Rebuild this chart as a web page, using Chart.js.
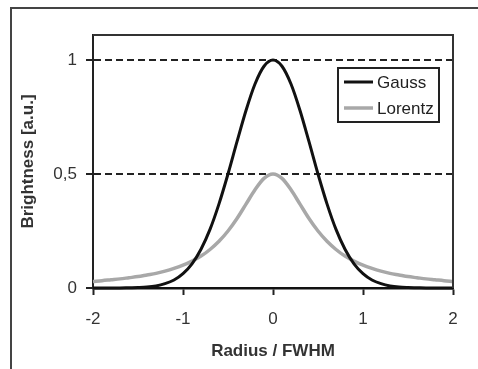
<!DOCTYPE html>
<html>
<head>
<meta charset="utf-8">
<script src="https://cdn.jsdelivr.net/npm/chart.js@4/dist/chart.umd.min.js"></script>
<style>
  html, body { margin: 0; padding: 0; background: #fff; }
  #c { display: block; }
</style>
</head>
<body>
<canvas id="c" width="478" height="369"></canvas>
<script>
// ---- data ----
const radius = [-2.0,-1.9,-1.8,-1.7,-1.6,-1.5,-1.4,-1.3,-1.2,-1.1,-1.0,-0.9,-0.8,-0.7,-0.6,-0.5,-0.4,-0.3,-0.2,-0.1,
                0.0,0.1,0.2,0.3,0.4,0.5,0.6,0.7,0.8,0.9,1.0,1.1,1.2,1.3,1.4,1.5,1.6,1.7,1.8,1.9,2.0];
const gauss = [0,0,0,0,0.001,0.002,0.004,0.009,0.019,0.035,0.063,0.106,0.17,0.257,0.369,0.5,0.642,0.779,0.895,0.973,
               1,0.973,0.895,0.779,0.642,0.5,0.369,0.257,0.17,0.106,0.063,0.035,0.019,0.009,0.004,0.002,0.001,0,0,0,0];
const lorentz = [0.029,0.032,0.036,0.04,0.045,0.05,0.057,0.064,0.074,0.086,0.1,0.118,0.14,0.169,0.205,0.25,0.305,0.368,0.431,0.481,
                 0.5,0.481,0.431,0.368,0.305,0.25,0.205,0.169,0.14,0.118,0.1,0.086,0.074,0.064,0.057,0.05,0.045,0.04,0.036,0.032,0.029];
const seriesNames = ['Gauss', 'Lorentz'];
const yTickValues = [0, 0.5, 1];
const xTitle = 'Radius / FWHM';
const yTitle = 'Brightness [a.u.]';

const FONT = '"Liberation Sans", Arial, sans-serif';

const frame = {
  id: 'frame',
  afterDraw(chart) {
    const ctx = chart.ctx;
    const a = chart.chartArea;
    ctx.save();
    ctx.setLineDash([]);
    // outer frame (left + top)
    ctx.strokeStyle = '#444';
    ctx.lineWidth = 2;
    ctx.beginPath();
    ctx.moveTo(11, 369);
    ctx.lineTo(11, 8);
    ctx.lineTo(478, 8);
    ctx.stroke();
    // plot area top + right border
    ctx.strokeStyle = '#333';
    ctx.lineWidth = 2;
    ctx.beginPath();
    ctx.moveTo(a.left, a.top);
    ctx.lineTo(a.right, a.top);
    ctx.lineTo(a.right, a.bottom);
    ctx.stroke();
    // legend
    const bx = 338, by = 68, bw = 101, bh = 54;
    ctx.fillStyle = '#fff';
    ctx.fillRect(bx, by, bw, bh);
    ctx.strokeStyle = '#222';
    ctx.lineWidth = 2;
    ctx.strokeRect(bx, by, bw, bh);
    ctx.font = '17px ' + FONT;
    ctx.textBaseline = 'middle';
    ctx.textAlign = 'left';
    chart.data.datasets.forEach((ds, i) => {
      const y = by + 14 + i * 26;
      ctx.strokeStyle = ds.borderColor;
      ctx.lineWidth = ds.borderWidth;
      ctx.beginPath();
      ctx.moveTo(bx + 6, y);
      ctx.lineTo(bx + 35, y);
      ctx.stroke();
      ctx.fillStyle = '#222';
      ctx.fillText(ds.label, bx + 39, y + 1);
    });
    ctx.restore();
  }
};

new Chart(document.getElementById('c'), {
  type: 'line',
  data: {
    datasets: [
      {
        label: seriesNames[0],
        data: radius.map((x, i) => ({ x: x, y: gauss[i] })),
        borderColor: '#111',
        borderWidth: 3,
        pointRadius: 0,
        cubicInterpolationMode: 'monotone',
        clip: false,
        order: 0
      },
      {
        label: seriesNames[1],
        data: radius.map((x, i) => ({ x: x, y: lorentz[i] })),
        borderColor: '#a8a8a8',
        borderWidth: 3.5,
        pointRadius: 0,
        cubicInterpolationMode: 'monotone',
        clip: false,
        order: 1
      }
    ]
  },
  options: {
    responsive: false,
    animation: false,
    devicePixelRatio: 1,
    layout: { padding: { left: 0, right: 25, top: 35, bottom: 0 } },
    plugins: { legend: { display: false }, tooltip: { enabled: false } },
    scales: {
      x: {
        type: 'linear',
        min: -2, max: 2,
        ticks: { stepSize: 1, font: { family: FONT, size: 17 }, color: '#333', padding: 14 },
        grid: { drawOnChartArea: false, tickLength: 7, tickColor: '#222', tickWidth: 2 },
        border: { color: '#111', width: 2.5 },
        title: { display: true, text: xTitle, font: { family: FONT, size: 17, weight: 'bold' }, color: '#333', padding: { top: 0, bottom: 7 } },
        afterFit(scale) { scale.height = 81; }
      },
      y: {
        min: 0, max: 1.11,
        afterBuildTicks(scale) { scale.ticks = yTickValues.map(v => ({ value: v })); },
        ticks: {
          font: { family: FONT, size: 17 }, color: '#333', padding: 9,
          callback: (v) => String(v).replace('.', ',')
        },
        grid: {
          color: (ctx) => (ctx.tick && ctx.tick.value === 0) ? 'rgba(0,0,0,0)' : '#222',
          lineWidth: 2,
          tickBorderDash: [1, 0],
          tickColor: '#222',
          tickWidth: 2,
          tickLength: 7
        },
        border: { color: '#222', width: 2, dash: [7, 4] },
        title: { display: true, text: yTitle, font: { family: FONT, size: 17, weight: 'bold' }, color: '#333', padding: { top: 18, bottom: 0 } },
        afterFit(scale) { scale.width = 93; }
      }
    }
  },
  plugins: [frame]
});
</script>
</body>
</html>
